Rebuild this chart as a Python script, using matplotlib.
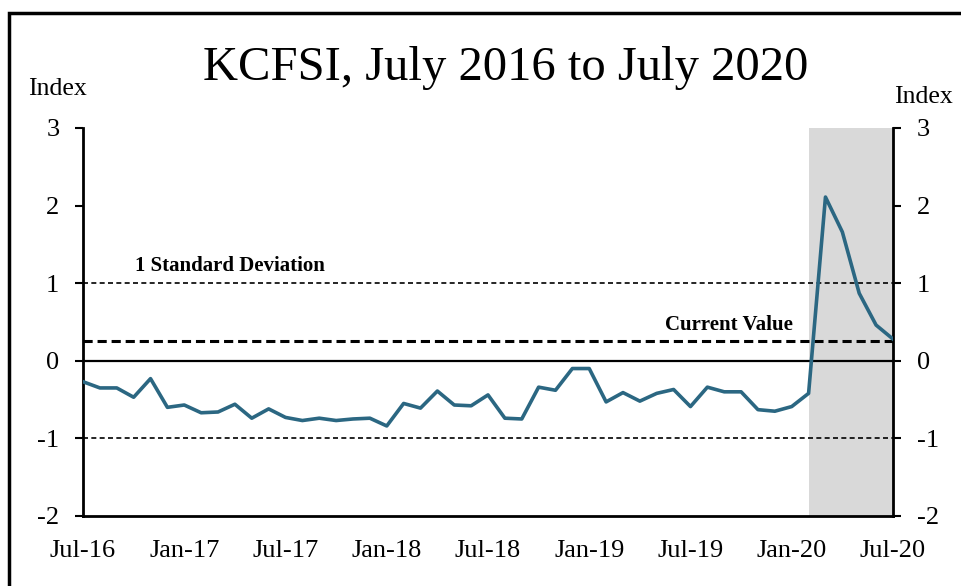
import numpy as np
import matplotlib.pyplot as plt
from matplotlib.patches import Rectangle

plt.rcParams['font.family'] = 'Liberation Serif'
plt.rcParams['axes.unicode_minus'] = False

# monthly KCFSI readings, Jul-16 .. Jul-20
months = ['Jul-16', 'Aug-16', 'Sep-16', 'Oct-16', 'Nov-16', 'Dec-16',
          'Jan-17', 'Feb-17', 'Mar-17', 'Apr-17', 'May-17', 'Jun-17',
          'Jul-17', 'Aug-17', 'Sep-17', 'Oct-17', 'Nov-17', 'Dec-17',
          'Jan-18', 'Feb-18', 'Mar-18', 'Apr-18', 'May-18', 'Jun-18',
          'Jul-18', 'Aug-18', 'Sep-18', 'Oct-18', 'Nov-18', 'Dec-18',
          'Jan-19', 'Feb-19', 'Mar-19', 'Apr-19', 'May-19', 'Jun-19',
          'Jul-19', 'Aug-19', 'Sep-19', 'Oct-19', 'Nov-19', 'Dec-19',
          'Jan-20', 'Feb-20', 'Mar-20', 'Apr-20', 'May-20', 'Jun-20',
          'Jul-20']
kcfsi = [-0.27, -0.35, -0.35, -0.47, -0.23, -0.60,
         -0.57, -0.67, -0.66, -0.56, -0.74, -0.62,
         -0.73, -0.77, -0.74, -0.77, -0.75, -0.74,
         -0.84, -0.55, -0.61, -0.39, -0.57, -0.58,
         -0.44, -0.74, -0.75, -0.34, -0.38, -0.10,
         -0.10, -0.53, -0.41, -0.52, -0.42, -0.37,
         -0.59, -0.34, -0.40, -0.40, -0.63, -0.65,
         -0.59, -0.42, 2.11, 1.66, 0.87, 0.46,
         0.28]
tick_labels = ['Jul-16', 'Jan-17', 'Jul-17', 'Jan-18', 'Jul-18',
               'Jan-19', 'Jul-19', 'Jan-20', 'Jul-20']
shade_start, shade_end = 'Feb-20', 'Jul-20'
one_sd = 1.0
current = 0.25

x = np.arange(len(months))

fig = plt.figure(figsize=(9.61, 5.86), dpi=100)
ax = fig.add_axes([0.0864, 0.1195, 0.8428, 0.6621])

ax.axvspan(months.index(shade_start), months.index(shade_end),
           color='#d9d9d9', lw=0, zorder=0)
ax.axhline(0, color='black', lw=1.6, zorder=1)
ax.axhline(one_sd, color='black', lw=1.2, ls=(0, (3, 2)), zorder=1)
ax.axhline(-one_sd, color='black', lw=1.2, ls=(0, (3, 2)), zorder=1)
ax.axhline(current, color='black', lw=2.2, ls=(0, (3, 1.6)), zorder=1)
ax.plot(x, kcfsi, color='#2b6782', lw=2.6, zorder=3)

ax.text(3.1, one_sd + 0.22, '1 Standard Deviation', fontsize=15,
        fontweight='bold', ha='left', va='center')
ax.text(34.5, current + 0.21, 'Current Value', fontsize=15,
        fontweight='bold', ha='left', va='center')

ax.set_xlim(0, len(months) - 1)
ax.set_ylim(-2, 3)
ax.set_yticks(range(-2, 4))
ax.set_xticks([months.index(m) for m in tick_labels])
ax.set_xticklabels(tick_labels)
ax.tick_params(axis='x', length=0, pad=17, labelsize=19)
ax.tick_params(axis='y', direction='out', length=6, width=1.5, labelsize=19,
               pad=11, left=True, right=True, labelleft=True, labelright=True)
ax.spines['top'].set_visible(False)
for s in ['left', 'right', 'bottom']:
    ax.spines[s].set_linewidth(2)

fig.text(0.029, 0.848, 'Index', fontsize=18.5, ha='left', va='center')
fig.text(0.930, 0.834, 'Index', fontsize=18.5, ha='left', va='center')
fig.text(0.526, 0.8635, 'KCFSI, July 2016 to July 2020', fontsize=35,
         ha='center', va='baseline')

# outer frame
fig.patches.append(Rectangle((0.009, -0.1), 1.2, 1.078, transform=fig.transFigure,
                             fill=False, ec='black', lw=2.5))

fig.savefig('out.png', dpi=100)
